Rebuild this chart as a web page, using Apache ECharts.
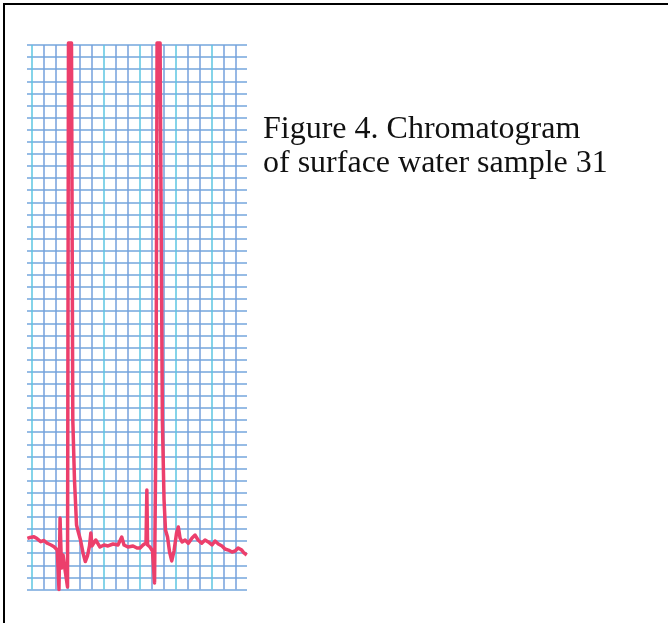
<!DOCTYPE html>
<html>
<head>
<meta charset="utf-8">
<script src="https://cdn.jsdelivr.net/npm/echarts@6/dist/echarts.min.js"></script>
<style>
  html, body { margin: 0; padding: 0; background: #fff; }
  #frame {
    position: absolute; left: 3px; top: 3px; width: 665px; height: 620px;
    border-top: 2px solid #000; border-left: 2px solid #000; box-sizing: border-box;
  }
  #chart { position: absolute; left: 0; top: 0; width: 668px; height: 623px; }
</style>
</head>
<body>
<div id="frame"></div>
<div id="chart"></div>
<script>
// ----------data----------
// x in chart-paper divisions (vertical rule 0..17), y in divisions up from the bottom rule (0..45)
const traceX = [
  -0.37, -0.15, 0.18, 0.43, 0.74, 1.01, 1.29, 1.60, 1.85, 2.12,
  2.26, 2.35, 2.47, 2.60, 2.72, 2.97, 3.05, 3.30, 3.41, 3.55,
  3.72, 3.89, 4.05, 4.26, 4.45, 4.63, 4.80, 4.91, 5.01, 5.32,
  5.67, 6.01, 6.34, 6.76, 7.17, 7.48, 7.67, 8.00, 8.42, 8.75,
  9.00, 9.25, 9.50, 9.57, 9.63, 9.83, 10.04, 10.21, 10.33, 10.42,
  10.67, 10.86, 11.00, 11.12, 11.29, 11.46, 11.64, 11.83, 12.04, 12.19,
  12.33, 12.50, 12.75, 13.02, 13.33, 13.58, 13.83, 14.13, 14.41, 14.68,
  14.99, 15.24, 15.52, 15.82, 16.07, 16.35, 16.66, 16.91, 17.16, 17.46,
  17.65, 17.88
];
const traceY = [
  4.23, 4.30, 4.36, 4.21, 3.95, 4.05, 3.82, 3.68, 3.54, 3.26,
  0.0, 5.91, 1.78, 2.85, 1.94, 0.21, 45.17, 45.17, 14.01, 9.05,
  5.33, 4.67, 4.09, 3.02, 2.31, 2.77, 3.60, 4.67, 3.60, 4.09,
  3.51, 3.68, 3.60, 3.76, 3.68, 4.34, 3.68, 3.51, 3.60, 3.43,
  3.43, 3.68, 3.84, 8.22, 3.68, 3.51, 3.18, 0.54, 14.01, 45.17,
  45.17, 14.01, 7.40, 4.92, 4.34, 3.10, 2.36, 3.18, 4.67, 5.17,
  4.26, 3.93, 4.09, 3.82, 4.26, 4.50, 4.09, 3.82, 4.09, 3.93,
  3.68, 4.01, 3.76, 3.60, 3.35, 3.26, 3.10, 3.18, 3.43, 3.26,
  3.02, 2.85
];
const captionLines = ['Figure 4. Chromatogram', 'of surface water sample 31'];
// ------------------------

const chart = echarts.init(document.getElementById('chart'), null, { renderer: 'canvas' });

const gridBlue = '#74a6dd';
const gridColors = ['#5cc6e2', '#74a0dc', '#74a0dc'];

const option = {
  backgroundColor: 'transparent',
  animation: false,
  title: {
    text: captionLines.join('\n'),
    left: 263,
    top: 113,
    padding: 0,
    textStyle: {
      fontFamily: 'Liberation Serif',
      fontSize: 32,
      fontWeight: 'normal',
      lineHeight: 33.4,
      color: '#111',
    },
  },
  grid: [
    { left: 27, top: 45, width: 220, height: 544.5 },
    { left: 31.8, top: 45, width: 204.4, height: 544.5 },
  ],
  xAxis: [
    {
      gridIndex: 0, type: 'value', min: -0.4, max: 17.9,
      axisLine: { show: false }, axisTick: { show: false },
      axisLabel: { show: false }, splitLine: { show: false },
    },
    {
      gridIndex: 1, type: 'value', min: 0, max: 17, interval: 1,
      axisLine: { show: false }, axisTick: { show: false },
      axisLabel: { show: false },
      splitLine: { show: true, lineStyle: { color: gridColors, width: 1.5 } },
    },
  ],
  yAxis: [
    {
      gridIndex: 0, type: 'value', min: 0, max: 45, interval: 1,
      axisLine: { show: false }, axisTick: { show: false },
      axisLabel: { show: false },
      splitLine: { show: true, lineStyle: { color: gridBlue, width: 1.5 } },
    },
    {
      gridIndex: 1, type: 'value', min: 0, max: 45,
      axisLine: { show: false }, axisTick: { show: false },
      axisLabel: { show: false }, splitLine: { show: false },
    },
  ],
  series: [
    {
      type: 'line',
      xAxisIndex: 0,
      yAxisIndex: 0,
      data: traceX.map((x, i) => [x, traceY[i]]),
      showSymbol: false,
      clip: false,
      lineStyle: { color: '#ec3f6c', width: 3.5, join: 'round' },
      z: 5,
    },
  ],
};

chart.setOption(option);
</script>
</body>
</html>
